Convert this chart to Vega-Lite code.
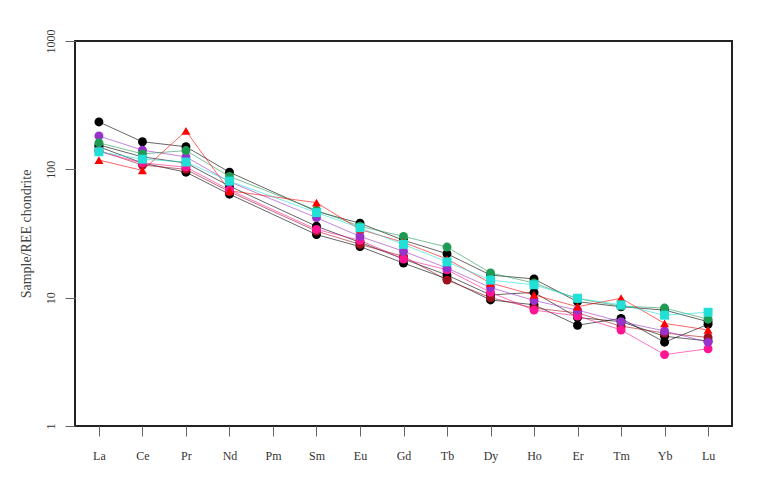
{
  "$schema": "https://vega.github.io/schema/vega-lite/v6.json",
  "width": 657,
  "height": 385,
  "autosize": "none",
  "padding": {"left": 75, "top": 41, "right": 27, "bottom": 63},
  "background": "white",
  "config": {
    "view": {"stroke": "#222", "strokeWidth": 2},
    "font": "Liberation Serif"
  },
  "data": {"values": [
    {"s":"A","el":"La","v":234},{"s":"A","el":"Ce","v":164},{"s":"A","el":"Pr","v":150},{"s":"A","el":"Nd","v":95},{"s":"A","el":"Sm","v":47},{"s":"A","el":"Eu","v":38},{"s":"A","el":"Gd","v":28},{"s":"A","el":"Tb","v":22},{"s":"A","el":"Dy","v":15},{"s":"A","el":"Ho","v":14},{"s":"A","el":"Er","v":9.3},{"s":"A","el":"Tm","v":8.5},{"s":"A","el":"Yb","v":8},{"s":"A","el":"Lu","v":6.5},
    {"s":"F","el":"La","v":150},{"s":"F","el":"Ce","v":112},{"s":"F","el":"Pr","v":95},{"s":"F","el":"Nd","v":64},{"s":"F","el":"Sm","v":31},{"s":"F","el":"Eu","v":25},{"s":"F","el":"Gd","v":18.6},{"s":"F","el":"Tb","v":14},{"s":"F","el":"Dy","v":9.6},{"s":"F","el":"Ho","v":8.8},{"s":"F","el":"Er","v":6.1},{"s":"F","el":"Tm","v":6.9},{"s":"F","el":"Yb","v":4.5},{"s":"F","el":"Lu","v":6.2},
    {"s":"H","el":"La","v":155},{"s":"H","el":"Ce","v":125},{"s":"H","el":"Pr","v":112},{"s":"H","el":"Nd","v":74},{"s":"H","el":"Sm","v":36},{"s":"H","el":"Eu","v":27},{"s":"H","el":"Gd","v":20},{"s":"H","el":"Tb","v":15},{"s":"H","el":"Dy","v":10.5},{"s":"H","el":"Ho","v":11},{"s":"H","el":"Er","v":7},{"s":"H","el":"Tm","v":6.5},{"s":"H","el":"Yb","v":5},{"s":"H","el":"Lu","v":4.6},
    {"s":"G","el":"La","v":140},{"s":"G","el":"Ce","v":108},{"s":"G","el":"Pr","v":100},{"s":"G","el":"Nd","v":67},{"s":"G","el":"Sm","v":33},{"s":"G","el":"Eu","v":26},{"s":"G","el":"Gd","v":21},{"s":"G","el":"Tb","v":13.7},{"s":"G","el":"Dy","v":10},{"s":"G","el":"Ho","v":8.3},{"s":"G","el":"Er","v":7.6},{"s":"G","el":"Tm","v":6},{"s":"G","el":"Yb","v":5.3},{"s":"G","el":"Lu","v":4.9},
    {"s":"I","el":"La","v":138},{"s":"I","el":"Ce","v":112},{"s":"I","el":"Pr","v":104},{"s":"I","el":"Nd","v":69},{"s":"I","el":"Sm","v":34},{"s":"I","el":"Eu","v":28},{"s":"I","el":"Gd","v":20},{"s":"I","el":"Tb","v":16.5},{"s":"I","el":"Dy","v":11},{"s":"I","el":"Ho","v":8},{"s":"I","el":"Er","v":7.2},{"s":"I","el":"Tm","v":5.6},{"s":"I","el":"Yb","v":3.6},{"s":"I","el":"Lu","v":4.0},
    {"s":"C","el":"La","v":182},{"s":"C","el":"Ce","v":141},{"s":"C","el":"Pr","v":125},{"s":"C","el":"Nd","v":80},{"s":"C","el":"Sm","v":42},{"s":"C","el":"Eu","v":30},{"s":"C","el":"Gd","v":23},{"s":"C","el":"Tb","v":17},{"s":"C","el":"Dy","v":12},{"s":"C","el":"Ho","v":9.5},{"s":"C","el":"Er","v":8},{"s":"C","el":"Tm","v":6.5},{"s":"C","el":"Yb","v":5.5},{"s":"C","el":"Lu","v":4.5},
    {"s":"E","el":"La","v":161},{"s":"E","el":"Ce","v":132},{"s":"E","el":"Pr","v":140},{"s":"E","el":"Nd","v":88},{"s":"E","el":"Sm","v":48},{"s":"E","el":"Eu","v":36},{"s":"E","el":"Gd","v":30},{"s":"E","el":"Tb","v":24.8},{"s":"E","el":"Dy","v":15.6},{"s":"E","el":"Ho","v":13},{"s":"E","el":"Er","v":9.8},{"s":"E","el":"Tm","v":8.6},{"s":"E","el":"Yb","v":8.3},{"s":"E","el":"Lu","v":6.8},
    {"s":"B","el":"La","v":118},{"s":"B","el":"Ce","v":98},{"s":"B","el":"Pr","v":199},{"s":"B","el":"Nd","v":68},{"s":"B","el":"Sm","v":55},{"s":"B","el":"Eu","v":34},{"s":"B","el":"Gd","v":27},{"s":"B","el":"Tb","v":20},{"s":"B","el":"Dy","v":13},{"s":"B","el":"Ho","v":10.5},{"s":"B","el":"Er","v":8.5},{"s":"B","el":"Tm","v":9.9},{"s":"B","el":"Yb","v":6.3},{"s":"B","el":"Lu","v":5.6},
    {"s":"D","el":"La","v":137},{"s":"D","el":"Ce","v":120},{"s":"D","el":"Pr","v":114},{"s":"D","el":"Nd","v":81},{"s":"D","el":"Sm","v":46},{"s":"D","el":"Eu","v":35},{"s":"D","el":"Gd","v":26},{"s":"D","el":"Tb","v":19},{"s":"D","el":"Dy","v":13.7},{"s":"D","el":"Ho","v":12.6},{"s":"D","el":"Er","v":9.9},{"s":"D","el":"Tm","v":8.8},{"s":"D","el":"Yb","v":7.3},{"s":"D","el":"Lu","v":7.7}
  ]},
  "encoding": {
    "x": {
      "field": "el", "type": "ordinal",
      "scale": {"type": "point", "padding": 0.55, "domain": ["La","Ce","Pr","Nd","Pm","Sm","Eu","Gd","Tb","Dy","Ho","Er","Tm","Yb","Lu"]},
      "axis": {"title": null, "domain": false, "grid": false, "labelAngle": 0, "labelFontSize": 12, "labelColor": "#333", "labelPadding": 14, "tickSize": 10, "tickColor": "#666", "tickWidth": 1}
    },
    "y": {
      "field": "v", "type": "quantitative",
      "scale": {"type": "log", "domain": [1, 1000], "nice": false},
      "axis": {"title": "Sample/REE chondrite", "titleFontSize": 14, "titleFontWeight": "normal", "titleColor": "#444", "titlePadding": 11, "values": [1, 10, 100, 1000], "format": "d", "domain": false, "grid": false, "labelAngle": -90, "labelAlign": "center", "labelBaseline": "bottom", "labelFontSize": 12, "labelColor": "#333", "labelPadding": 8, "tickSize": 10, "tickColor": "#666", "tickWidth": 1}
    },
    "color": {
      "field": "s", "type": "nominal", "legend": null,
      "scale": {"domain": ["A","B","C","D","E","F","G","H","I"], "range": ["#000000","#ff0000","#9932cc","#22e0d8","#1f9a55","#000000","#a0101c","#000000","#ff1493"]}
    }
  },
  "layer": [
    {
      "mark": {"type": "line", "strokeWidth": 1, "opacity": 0.6},
      "encoding": {"order": {"value": null}}
    },
    {
      "mark": {"type": "point", "filled": true, "opacity": 1, "size": 80},
      "encoding": {
        "shape": {"field": "s", "type": "nominal", "legend": null,
          "scale": {"domain": ["A","B","C","D","E","F","G","H","I"], "range": ["circle","triangle-up","circle","square","circle","circle","circle","circle","circle"]}}
      }
    }
  ]
}
